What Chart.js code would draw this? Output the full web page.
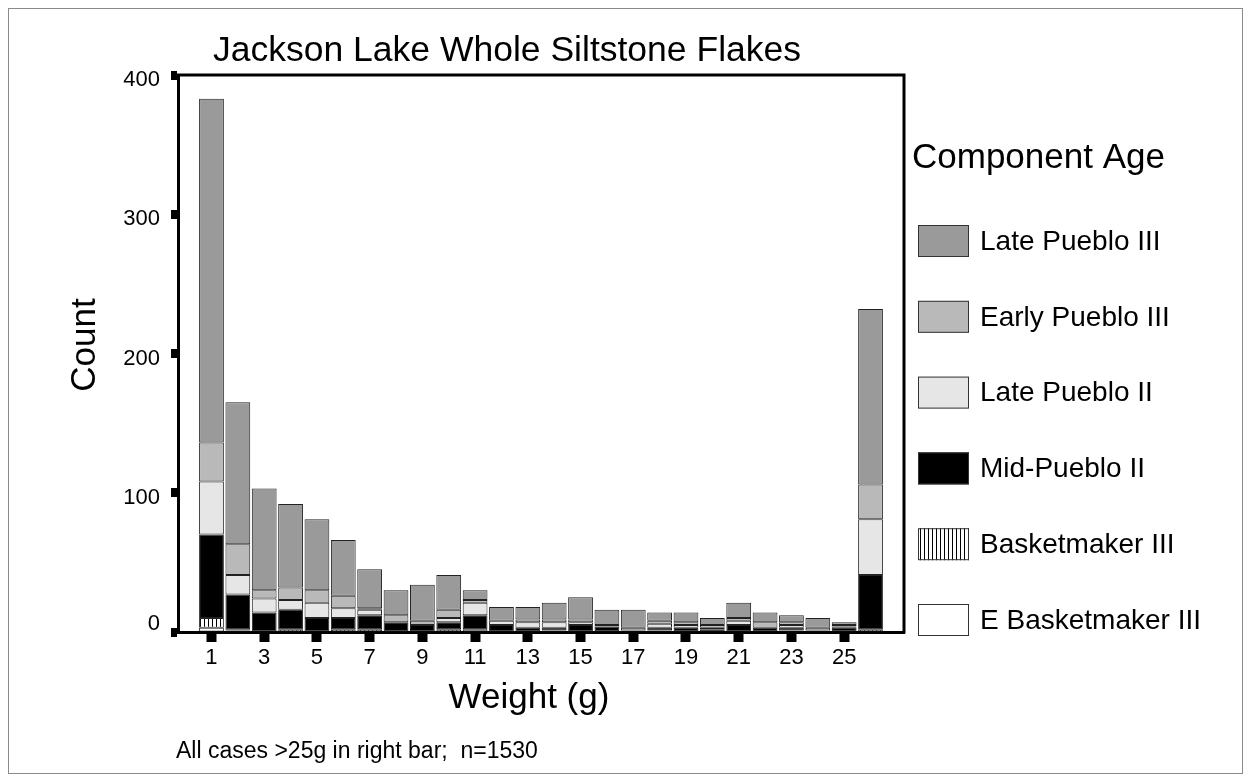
<!DOCTYPE html>
<html>
<head>
<meta charset="utf-8">
<title>Jackson Lake Whole Siltstone Flakes</title>
<script src="https://cdn.jsdelivr.net/npm/chart.js@4.4.1/dist/chart.umd.min.js"></script>
<style>
  html, body { margin: 0; padding: 0; background: #ffffff; }
  canvas { display: block; }
</style>
</head>
<body>
<canvas id="flakes" width="1251" height="782"></canvas>
<script>
// Weight bins in grams; bin 26 collects every flake heavier than 25 g.
const weightBins = [1, 2, 3, 4, 5, 6, 7, 8, 9, 10, 11, 12, 13, 14, 15, 16, 17, 18, 19, 20, 21, 22, 23, 24, 25, 26];

// Counts per bin for each component age (stacked bottom to top).
const eBasketmakerIII = [3, 1, 0, 0, 0, 0, 0, 0, 0, 0, 2, 0, 0, 0, 0, 0, 0, 0, 0, 0, 0, 0, 0, 0, 0, 0];
const basketmakerIII  = [7, 1, 0, 2, 0, 2, 2, 0, 0, 2, 0, 0, 0, 1, 0, 0, 0, 1, 0, 0, 0, 0, 1, 0, 0, 2];
const midPuebloII     = [60, 25, 14, 14, 10, 8, 10, 7, 5, 5, 10, 5, 3, 2, 5, 4, 1, 2, 3, 2, 5, 3, 2, 1, 3, 39];
const latePuebloII    = [38, 14, 10, 7, 11, 7, 4, 0, 0, 3, 9, 3, 4, 4, 2, 0, 0, 3, 2, 1, 3, 0, 2, 0, 1, 40];
const earlyPuebloIII  = [28, 22, 6, 9, 9, 9, 1, 5, 3, 6, 2, 0, 2, 2, 2, 1, 2, 2, 2, 2, 2, 4, 2, 2, 1, 25];
const latePuebloIII   = [247, 102, 73, 60, 51, 40, 28, 18, 26, 25, 7, 10, 9, 12, 16, 11, 13, 6, 7, 5, 11, 7, 5, 7, 2, 126];

// Axis ticks
const xTickValues = [1, 3, 5, 7, 9, 11, 13, 15, 17, 19, 21, 23, 25];
const xTickLabels = ['1', '3', '5', '7', '9', '11', '13', '15', '17', '19', '21', '23', '25'];
const yTickValues = [0, 100, 200, 300, 400];

const FONT = '"Liberation Sans", Arial, Helvetica, sans-serif';
Chart.defaults.font.family = FONT;
Chart.defaults.color = '#000';

// Vertical-stripe fill used for Basketmaker III
function stripeFill() {
  const tile = document.createElement('canvas');
  tile.width = 4; tile.height = 4;
  const g = tile.getContext('2d');
  g.fillStyle = '#ffffff';
  g.fillRect(0, 0, 4, 4);
  g.fillStyle = '#000000';
  g.fillRect(0, 0, 1, 4);
  return document.getElementById('flakes').getContext('2d').createPattern(tile, 'repeat');
}

const series = [
  { label: 'E Basketmaker III', values: eBasketmakerIII, fill: '#ffffff' },
  { label: 'Basketmaker III',   values: basketmakerIII,  fill: stripeFill() },
  { label: 'Mid-Pueblo II',     values: midPuebloII,     fill: '#000000' },
  { label: 'Late Pueblo II',    values: latePuebloII,    fill: '#e6e6e6' },
  { label: 'Early Pueblo III',  values: earlyPuebloIII,  fill: '#b9b9b9' },
  { label: 'Late Pueblo III',   values: latePuebloIII,   fill: '#9a9a9a' }
];

// Page frame, plot frame, titles and the legend
const decorations = {
  id: 'decorations',
  beforeDraw(chart) {
    const ctx = chart.ctx;
    ctx.save();
    ctx.fillStyle = '#ffffff';
    ctx.fillRect(0, 0, chart.width, chart.height);
    ctx.strokeStyle = '#8a8a8a';
    ctx.lineWidth = 1;
    ctx.strokeRect(8.5, 8.5, 1234, 765);
    ctx.restore();
  },
  afterDraw(chart) {
    const ctx = chart.ctx;
    const a = chart.chartArea;
    ctx.save();
    // top and right edges of the plot frame
    ctx.strokeStyle = '#000';
    ctx.lineWidth = 3;
    ctx.beginPath();
    ctx.moveTo(a.left - 1.5, a.top);
    ctx.lineTo(a.right, a.top);
    ctx.lineTo(a.right, a.bottom + 1.5);
    ctx.stroke();

    ctx.fillStyle = '#000';
    ctx.textBaseline = 'middle';

    ctx.font = '35.5px ' + FONT;
    ctx.textAlign = 'left';
    ctx.fillText('Jackson Lake Whole Siltstone Flakes', 213, 51);

    ctx.font = '35px ' + FONT;
    ctx.textAlign = 'center';
    ctx.fillText('Weight (g)', 529, 698);

    ctx.save();
    ctx.translate(85, 345);
    ctx.rotate(-Math.PI / 2);
    ctx.fillText('Count', 0, 0);
    ctx.restore();

    ctx.font = '23px ' + FONT;
    ctx.textAlign = 'left';
    ctx.fillText('All cases >25g in right bar;  n=1530', 176, 752);

    // legend
    ctx.font = '35px ' + FONT;
    ctx.fillText('Component Age', 912, 158);
    const items = chart.data.datasets.slice().reverse();
    ctx.font = '28px ' + FONT;
    items.forEach((ds, i) => {
      const cy = 241 + i * 75.8;
      ctx.fillStyle = ds.backgroundColor;
      ctx.fillRect(918, cy - 16, 51, 32);
      ctx.strokeStyle = '#333';
      ctx.lineWidth = 1;
      ctx.strokeRect(918.5, cy - 15.5, 50, 31);
      ctx.fillStyle = '#000';
      ctx.fillText(ds.label, 980, cy + 1);
    });
    ctx.restore();
  }
};

new Chart(document.getElementById('flakes'), {
  type: 'bar',
  data: {
    datasets: series.map(s => ({
      label: s.label,
      data: weightBins.map((w, i) => ({ x: w, y: s.values[i] })),
      backgroundColor: s.fill,
      borderColor: '#222222',
      borderWidth: 1,
      borderSkipped: false,
      barPercentage: 0.94,
      categoryPercentage: 1
    }))
  },
  options: {
    responsive: false,
    animation: false,
    devicePixelRatio: 1,
    layout: { padding: { left: 10, right: 347, top: 75, bottom: 110 } },
    plugins: {
      legend: { display: false },
      title: { display: false },
      tooltip: { enabled: false }
    },
    scales: {
      x: {
        type: 'linear',
        min: -0.27,
        max: 27.27,
        offset: false,
        stacked: true,
        z: 1,
        grid: {
          offset: false,
          drawOnChartArea: false,
          drawTicks: true,
          tickLength: 10,
          tickWidth: 10,
          tickColor: '#000'
        },
        border: { display: true, color: '#000', width: 3 },
        afterBuildTicks: scale => { scale.ticks = xTickValues.map(v => ({ value: v })); },
        ticks: {
          autoSkip: false,
          maxRotation: 0,
          padding: 3,
          color: '#000',
          font: { size: 22 },
          callback: value => xTickLabels[xTickValues.indexOf(value)]
        },
        afterFit: scale => { scale.height = 40; }
      },
      y: {
        min: 0,
        max: 400,
        stacked: true,
        z: 1,
        grid: {
          drawOnChartArea: false,
          drawTicks: true,
          tickLength: 7,
          tickWidth: 9,
          tickColor: '#000'
        },
        border: { display: true, color: '#000', width: 3 },
        afterBuildTicks: scale => { scale.ticks = yTickValues.map(v => ({ value: v })); },
        ticks: {
          padding: 11,
          labelOffset: 5,
          color: '#000',
          font: { size: 22 },
          // the zero label sits a half line higher, clear of the weight axis
          callback: value => value === 0 ? ['0', ''] : String(value)
        },
        afterFit: scale => { scale.width = 168; }
      }
    }
  },
  plugins: [decorations]
});
</script>
</body>
</html>
